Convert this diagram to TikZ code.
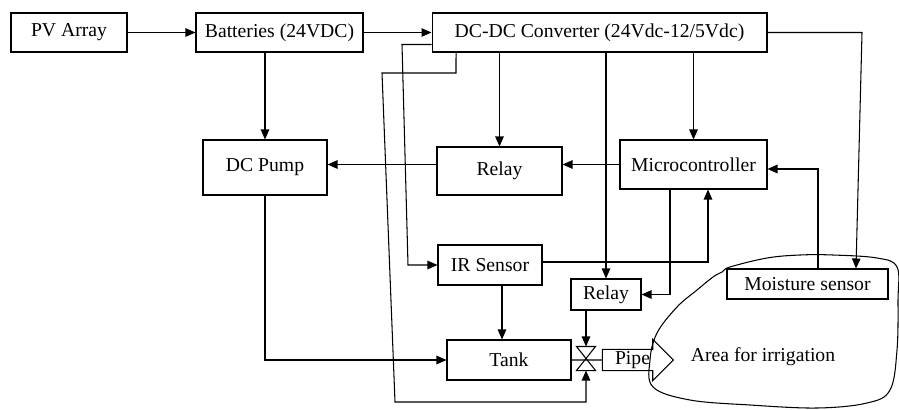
\documentclass[tikz,border=0pt]{standalone}
\usepackage{fontspec}
\setmainfont{Liberation Serif}
\usetikzlibrary{arrows.meta,shapes.arrows}
\begin{document}
\begin{tikzpicture}[x=0.02cm, y=-0.02cm, line width=0.6pt,
    box/.style={draw, font=\fontsize{11.2}{13}\selectfont, inner sep=0pt},
    arr/.style={-{Triangle[length=0.2cm, width=0.17cm]}}]
            \useasboundingbox (0,0) rectangle (899,409);
            % blocks
            \node[box, minimum width=2.32cm, minimum height=0.78cm] (pv) at (69,32.5) {PV Array};
            \node[box, minimum width=3.34cm, minimum height=0.78cm] (bat) at (279.5,32.5) {Batteries (24VDC)};
            \node[box, minimum width=6.70cm, minimum height=0.78cm] (dcdc) at (599.5,32.5) {DC-DC Converter (24Vdc-12/5Vdc)};
            \node[box, minimum width=2.48cm, minimum height=1.10cm] (pump) at (265,167.5) {DC Pump};
            \node[box, minimum width=2.50cm, minimum height=0.96cm] (relayA) at (499.5,171) {Relay};
            \node[box, minimum width=2.94cm, minimum height=0.98cm] (micro) at (693.5,164.5) {Microcontroller};
            \node[box, minimum width=2.08cm, minimum height=0.80cm] (ir) at (490,265) {IR Sensor};
            \node[box, minimum width=1.40cm, minimum height=0.62cm] (relayB) at (606,294.5) {Relay};
            \node[box, minimum width=2.48cm, minimum height=0.80cm] (tank) at (509,360) {Tank};
            \node[box, minimum width=3.22cm, minimum height=0.60cm] (moist) at (807.5,284) {Moisture sensor};
            % valve and pipe
            \node[minimum width=0.36cm, minimum height=0.46cm, inner sep=0pt] (valve) at (586,358.5) {};
            \draw (valve.north west) -- (valve.north east) -- (valve.south west) -- (valve.south east) -- cycle;
            \node[box, single arrow, single arrow head extend=0.2cm, single arrow tip angle=90,
              minimum height=1.42cm, inner xsep=2pt, inner ysep=0pt, text height=8.5pt, text depth=2.9pt]
              (pipe) at (632.5,360) {Pipe};
            % area for irrigation
            \draw plot[smooth cycle, tension=0.6] coordinates {(722,272) (730,267) (767,258) (800,255) (833,255)
              (877,258) (897,267) (898,300) (897,350) (890,390) (867,403) (817,408) (750,405) (690,400)
              (653,387) (650,360) (657,333) (677,307) (697,290) (713,277)};
            \node[font=\fontsize{11.2}{13}\selectfont] (area) at (763,357) {Area for irrigation};
            % connections
            \draw[arr] (pv) -- (bat);
            \draw[arr] (bat) -- (dcdc);
            \draw[arr] (bat.south -| pump.north) -- (pump.north);
            \draw[arr] (dcdc.south -| relayA.north) -- (relayA.north);
            \draw[arr] (dcdc.south -| micro.north) -- (micro.north);
            \draw[arr] (dcdc.south -| relayB.north) -- (relayB.north);
            \draw[arr] (dcdc.east) -- (862,32.5) -- ([xshift=0.97cm]moist.north);
            \draw[arr] ([yshift=-0.24cm]dcdc.west) -- (402,44.5) -- (408,265) -- (ir.west);
            \draw[arr] ([xshift=-2.87cm]dcdc.south) -- (456,73) -- (382,73) -- (395,402) -| (valve.south);
            \draw[arr] (micro.west) -- (micro.west -| relayA.east);
            \draw[arr] (micro.west -| relayA.west) -- (micro.west -| pump.east);
            \draw[arr] ([xshift=0.21cm]moist.north) |- ([yshift=-0.09cm]micro.east);
            \draw[arr] ([yshift=0.06cm]ir.east) -| ([xshift=0.29cm]micro.south);
            \draw[arr] ([xshift=-0.47cm]micro.south) |- (relayB.east);
            \draw[arr] ([xshift=0.24cm]ir.south) -- ([xshift=0.24cm]ir.south |- tank.north);
            \draw[arr] (pump.south) |- (tank.west);
            \draw[arr] (relayB.south -| valve.north) -- (valve.north);
            \draw (tank.east) -- (pipe.west);
          \end{tikzpicture}
\end{document}
